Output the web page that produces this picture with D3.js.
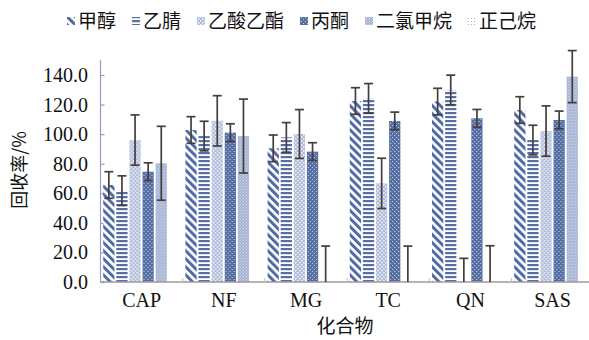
<!DOCTYPE html>
<html><head><meta charset="utf-8">
<script src="https://cdn.jsdelivr.net/npm/d3@7"></script>
<style>body{margin:0;background:#fff}svg{display:block}</style>
</head><body>
<svg id="c" width="589" height="340"></svg>
<script>
const categories = ["CAP","NF","MG","TC","QN","SAS"];
const seriesNames = ["甲醇","乙腈","乙酸乙酯","丙酮","二氯甲烷","正己烷"];
const methanol     = [65.6, 102.8, 90.4, 122.4, 122.0, 116.3];
const methanolErr  = [9, 9, 9, 9, 9, 9];
const acetonitrile = [61.8, 98.7, 97.8, 124.2, 129.9, 96.0];
const acetonitrileErr = [10, 10, 10, 10, 10, 10];
const ethylAcetate = [96.0, 109.0, 100.1, 66.7, 0, 102.1];
const ethylAcetateErr = [17, 17, 16.5, 17, 16, 17];
const acetone      = [74.6, 101.0, 88.2, 108.9, 110.7, 109.6];
const acetoneErr   = [6, 6, 6, 6, 6, 6];
const dcm          = [80.3, 98.7, 0, 0, 0, 138.9];
const dcmErr       = [25, 25, 24.3, 24.3, 24.5, 17.6];
const hexane       = [0, 0, 0, 0, 0, 0];
const hexaneErr    = [null, null, null, null, null, null];
const yTicks = [0, 20, 40, 60, 80, 100, 120, 140];

const seriesVals = [methanol, acetonitrile, ethylAcetate, acetone, dcm, hexane];
const seriesErrs = [methanolErr, acetonitrileErr, ethylAcetateErr, acetoneErr, dcmErr, hexaneErr];

const svg = d3.select("#c");
const defs = svg.append("defs");

function pat(id, w, h, draw, transform) {
  const p = defs.append("pattern").attr("id", id).attr("patternUnits", "userSpaceOnUse")
    .attr("width", w).attr("height", h);
  if (transform) p.attr("patternTransform", transform);
  draw(p);
}
pat("p0", 5.7, 10, p => {
  p.append("rect").attr("width", 5.7).attr("height", 10).attr("fill", "#fff");
  p.append("rect").attr("width", 3).attr("height", 10).attr("fill", "#4f6aa4");
}, "rotate(-45)");
pat("p1", 10, 4, p => {
  p.append("rect").attr("width", 10).attr("height", 4).attr("fill", "#fff");
  p.append("rect").attr("width", 10).attr("height", 2.2).attr("fill", "#5670a6");
});
pat("p2", 4, 4, p => {
  p.append("rect").attr("width", 4).attr("height", 4).attr("fill", "#aebbda");
  p.append("rect").attr("x", 0).attr("y", 0).attr("width", 1.6).attr("height", 1.6).attr("fill", "#f2f4fa");
  p.append("rect").attr("x", 2).attr("y", 2).attr("width", 1.6).attr("height", 1.6).attr("fill", "#f2f4fa");
});
pat("p3", 4, 4, p => {
  p.append("rect").attr("width", 4).attr("height", 4).attr("fill", "#566fa3");
  p.append("rect").attr("x", 1).attr("y", 1).attr("width", 1).attr("height", 1).attr("fill", "#c9d2e8");
  p.append("rect").attr("x", 3).attr("y", 3).attr("width", 1).attr("height", 1).attr("fill", "#c9d2e8");
});
pat("p4", 3, 3, p => {
  p.append("rect").attr("width", 3).attr("height", 3).attr("fill", "#a3b1d3");
  p.append("rect").attr("x", 0).attr("y", 0).attr("width", 1).attr("height", 1).attr("fill", "#dfe4f1");
  p.append("rect").attr("x", 1.5).attr("y", 1.5).attr("width", 1).attr("height", 1).attr("fill", "#dfe4f1");
});
pat("p5", 3, 3, p => {
  p.append("rect").attr("width", 3).attr("height", 3).attr("fill", "#fff");
  p.append("rect").attr("x", 0).attr("y", 0).attr("width", 1).attr("height", 1).attr("fill", "#9fb0d4");
});

const x0 = d3.scaleBand().domain(categories).range([100.5, 593.7]).padding(0);
const x1 = d3.scaleBand().domain(d3.range(seriesNames.length)).range([2.7, x0.bandwidth() - 2.7]).paddingInner(0.14).paddingOuter(0);
const y = d3.scaleLinear().domain([0, 150]).range([282, 60.2]);

const yAxis = svg.append("g").attr("transform", "translate(100.5,0)")
  .call(d3.axisRight(y).tickValues(yTicks).tickSize(4).tickFormat(""));
yAxis.select(".domain").attr("d", `M0,${y(0)}V${y(150)}`).attr("stroke", "#8e9ec6").attr("stroke-width", 1.2);
yAxis.selectAll(".tick line").attr("stroke", "#8e9ec6").attr("stroke-width", 1.2);
svg.append("g").selectAll("text").data(yTicks).join("text")
  .attr("x", 88).attr("y", d => y(d)).attr("dy", "0.35em").attr("text-anchor", "end")
  .attr("font-family", "Liberation Serif, Times New Roman, serif").attr("font-size", 20).attr("fill", "#111")
  .text(d3.format(".1f"));

const groups = svg.append("g").selectAll("g").data(categories).join("g")
  .attr("transform", d => `translate(${x0(d)},0)`);
groups.each(function(cat, ci) {
  const g = d3.select(this);
  seriesVals.forEach((vals, si) => {
    const v = vals[ci];
    if (v > 0) {
      g.append("rect").attr("x", x1(si)).attr("width", x1.bandwidth())
        .attr("y", y(v)).attr("height", y(0) - y(v)).attr("fill", `url(#p${si})`);
    }
  });
});

const xAxisG = svg.append("g").attr("transform", `translate(0,${y(0)})`);
xAxisG.append("line").attr("x1", 100.5).attr("x2", 589).attr("y1", 0).attr("y2", 0)
  .attr("stroke", "#a09a9a").attr("stroke-width", 1.3);
xAxisG.selectAll(".tk").data(categories.slice(1)).join("line").attr("class", "tk")
  .attr("x1", d => x0(d)).attr("x2", d => x0(d)).attr("y1", 0).attr("y2", -4)
  .attr("stroke", "#c0bcbc").attr("stroke-width", 1);

const errG = svg.append("g");
categories.forEach((cat, ci) => {
  seriesVals.forEach((vals, si) => {
    const v = vals[ci], e = seriesErrs[si][ci];
    if (e == null) return;
    const cx = x0(cat) + x1(si) + x1.bandwidth() / 2;
    const lo = Math.max(0, v - e), hi = v + e;
    errG.append("line").attr("x1", cx).attr("x2", cx).attr("y1", y(lo)).attr("y2", y(hi))
      .attr("stroke", "#463d3d").attr("stroke-width", 1.7);
    errG.append("line").attr("x1", cx - 4.5).attr("x2", cx + 4.5).attr("y1", y(hi)).attr("y2", y(hi))
      .attr("stroke", "#463d3d").attr("stroke-width", 1.7);
    if (v - e >= 0) {
      errG.append("line").attr("x1", cx - 4.5).attr("x2", cx + 4.5).attr("y1", y(lo)).attr("y2", y(lo))
        .attr("stroke", "#463d3d").attr("stroke-width", 1.7);
    }
  });
});

svg.append("g").selectAll("text").data(categories).join("text")
  .attr("x", d => x0(d) + x0.bandwidth() / 2).attr("y", 307).attr("text-anchor", "middle")
  .attr("font-family", "Liberation Serif, Times New Roman, serif").attr("font-size", 20).attr("fill", "#111")
  .text(d => d);

svg.append("text").attr("x", 345).attr("y", 333).attr("text-anchor", "middle")
  .attr("font-family", "Noto Sans CJK SC, sans-serif").attr("font-size", 19).attr("fill", "#111").text("化合物");
svg.append("text").attr("transform", "translate(26,170) rotate(-90)").attr("text-anchor", "middle")
  .attr("font-family", "Noto Sans CJK SC, sans-serif").attr("font-size", 18).attr("fill", "#111").text("回收率/%");

const leg = svg.append("g");
let lx = 67;
seriesNames.forEach((name, si) => {
  leg.append("rect").attr("x", lx).attr("y", 17).attr("width", 8).attr("height", 8).attr("fill", `url(#p${si})`);
  const t = leg.append("text").attr("x", lx + 11).attr("y", 21).attr("dy", "0.35em")
    .attr("font-family", "Noto Sans CJK SC, sans-serif").attr("font-size", 19).attr("fill", "#111").text(name);
  lx += 11 + t.node().getComputedTextLength() + 16;
});
</script>
</body></html>
